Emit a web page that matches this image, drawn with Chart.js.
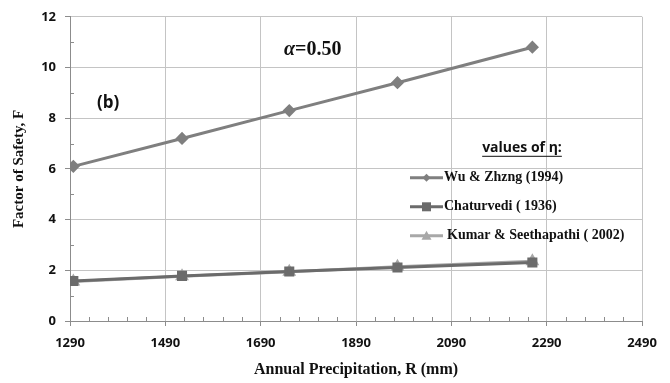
<!DOCTYPE html>
<html>
<head>
<meta charset="utf-8">
<script src="https://cdn.jsdelivr.net/npm/chart.js@4"></script>
<style>
  html, body { margin: 0; padding: 0; background: #fff; }
  #wrap { width: 670px; height: 383px; position: relative; }
</style>
</head>
<body>
<div id="wrap"><canvas id="fsChart"></canvas></div>
<script>
'use strict';

// Data
let precipitation = [1297, 1525, 1750, 1977, 2260];
let wuZhang = [6.1, 7.2, 8.3, 9.4, 10.8];
let chaturvedi = [1.58, 1.78, 1.95, 2.11, 2.31];
let kumar = [1.56, 1.77, 1.94, 2.14, 2.36];
let seriesNames = ['Wu & Zhzng (1994)', 'Chaturvedi ( 1936)', 'Kumar & Seethapathi ( 2002)'];
let xTicks = [1290, 1490, 1690, 1890, 2090, 2290, 2490];
let yTicks = [0, 2, 4, 6, 8, 10, 12];

function toPoints(values) {
  return values.map((v, i) => ({ x: precipitation[i], y: v }));
}

const serif = '"Liberation Serif", "Times New Roman", serif';
const sans = '"Open Sans", "Liberation Sans", sans-serif';

// minor ticks inside the plot, like the spreadsheet original
const minorTicks = {
  id: 'minorTicks',
  afterDraw(chart) {
    const { ctx, chartArea, scales } = chart;
    ctx.save();
    ctx.strokeStyle = '#8c8c8c';
    ctx.lineWidth = 1;
    ctx.beginPath();
    for (let v = xTicks[0] + 40; v < xTicks[xTicks.length - 1]; v += 40) {
      if ((v - xTicks[0]) % 200 === 0) continue;
      let px = Math.round(scales.x.getPixelForValue(v)) + 0.5;
      ctx.moveTo(px, chartArea.bottom);
      ctx.lineTo(px, chartArea.bottom - 4);
    }
    for (let v = 1; v < 12; v += 2) {
      let py = Math.round(scales.y.getPixelForValue(v)) + 0.5;
      ctx.moveTo(chartArea.left, py);
      ctx.lineTo(chartArea.left + 4, py);
    }
    ctx.stroke();
    ctx.restore();
  }
};

// labels and legend drawn inside the plot area
const notes = {
  id: 'notes',
  afterDraw(chart) {
    const { ctx, chartArea } = chart;
    const L = chartArea.left, T = chartArea.top;
    ctx.save();
    ctx.fillStyle = '#111';
    ctx.textBaseline = 'middle';

    ctx.font = 'bold 17px ' + sans;
    ctx.fillText('(b)', L + 27, T + 86);

    ctx.font = 'italic bold 20px ' + serif;
    ctx.fillText('α', L + 214, T + 33);
    let aw = ctx.measureText('α').width;
    ctx.font = 'bold 20px ' + serif;
    ctx.fillText('=0.50', L + 214 + aw, T + 33);

    // legend title
    ctx.font = 'bold 14px ' + sans;
    ctx.textAlign = 'center';
    let title = 'values of η:';
    let tw = ctx.measureText(title).width;
    let tx = L + 452, ty = T + 131;
    ctx.fillText(title, tx, ty);
    ctx.fillRect(tx - tw / 2, ty + 8, tw, 1);

    ctx.textAlign = 'left';
    ctx.font = 'bold 14px ' + serif;
    const rows = [T + 161, T + 190, T + 219];
    chart.data.datasets.forEach((ds, i) => {
      let y = rows[i];
      let x0 = L + 340, x1 = L + 373;
      ctx.strokeStyle = ds.borderColor;
      ctx.lineWidth = 3;
      ctx.beginPath();
      ctx.moveTo(x0, y);
      ctx.lineTo(x1, y);
      ctx.stroke();
      ctx.fillStyle = ds.pointBackgroundColor;
      let cx = (x0 + x1) / 2;
      ctx.beginPath();
      if (ds.pointStyle === 'rectRot') {
        ctx.moveTo(cx, y - 4); ctx.lineTo(cx + 4, y); ctx.lineTo(cx, y + 4); ctx.lineTo(cx - 4, y);
      } else if (ds.pointStyle === 'rect') {
        ctx.rect(cx - 4.5, y - 4.5, 9, 9);
      } else {
        ctx.moveTo(cx, y - 5); ctx.lineTo(cx + 5, y + 4); ctx.lineTo(cx - 5, y + 4);
      }
      ctx.fill();
      ctx.fillStyle = '#111';
      ctx.fillText(ds.label, x1 + (i === 2 ? 4 : 1), y);
    });
    ctx.restore();
  }
};

const ctx = document.getElementById('fsChart');
new Chart(ctx, {
  type: 'line',
  data: {
    datasets: [{
      label: seriesNames[0],
      data: toPoints(wuZhang),
      borderColor: '#7f7f7f',
      backgroundColor: '#7f7f7f',
      pointBackgroundColor: '#7f7f7f',
      pointBorderColor: '#7f7f7f',
      pointStyle: 'rectRot',
      pointRadius: 4.5,
      borderWidth: 3
    },
    {
      label: seriesNames[1],
      data: toPoints(chaturvedi),
      borderColor: '#6b6b6b',
      backgroundColor: '#6b6b6b',
      pointBackgroundColor: '#6b6b6b',
      pointBorderColor: '#6b6b6b',
      pointStyle: 'rect',
      pointRadius: 5,
      borderWidth: 3
    },
    {
      label: seriesNames[2],
      data: toPoints(kumar),
      borderColor: '#a8a8a8',
      backgroundColor: '#a8a8a8',
      pointBackgroundColor: '#a8a8a8',
      pointBorderColor: '#a8a8a8',
      pointStyle: 'triangle',
      pointRadius: 5,
      borderWidth: 3
    }]
  },
  options: {
    responsive: true,
    maintainAspectRatio: false,
    animation: false,
    layout: { padding: { top: 13, right: 28, left: 0, bottom: 0 } },
    plugins: {
      legend: { display: false },
      tooltip: { enabled: false }
    },
    scales: {
      x: {
        type: 'linear',
        min: xTicks[0],
        max: xTicks[xTicks.length - 1],
        afterBuildTicks(scale) { scale.ticks = xTicks.map(v => ({ value: v })); },
        afterFit(scale) { scale.height = 62; },
        grid: { color: '#c4c4c4', tickColor: '#8c8c8c', tickLength: 5 },
        border: { color: '#8c8c8c' },
        ticks: {
          color: '#111',
          padding: 9,
          maxRotation: 0,
          callback: v => String(v),
          font: { family: sans, weight: 'bold', size: 13 }
        },
        title: {
          display: true,
          text: 'Annual Precipitation, R (mm)',
          color: '#111',
          font: { family: serif, weight: 'bold', size: 16 },
          padding: { top: 4 }
        }
      },
      y: {
        min: 0,
        max: 12,
        afterBuildTicks(scale) { scale.ticks = yTicks.map(v => ({ value: v })); },
        afterFit(scale) { scale.width = 70; },
        grid: { color: '#c4c4c4', tickColor: '#8c8c8c', tickLength: 5 },
        border: { color: '#8c8c8c' },
        ticks: {
          color: '#111',
          padding: 9,
          font: { family: sans, weight: 'bold', size: 13 }
        },
        title: {
          display: true,
          text: 'Factor of Safety, F',
          color: '#111',
          font: { family: serif, weight: 'bold', size: 15 },
          padding: { top: 10, bottom: 0 }
        }
      }
    }
  },
  plugins: [minorTicks, notes]
});
</script>
</body>
</html>
